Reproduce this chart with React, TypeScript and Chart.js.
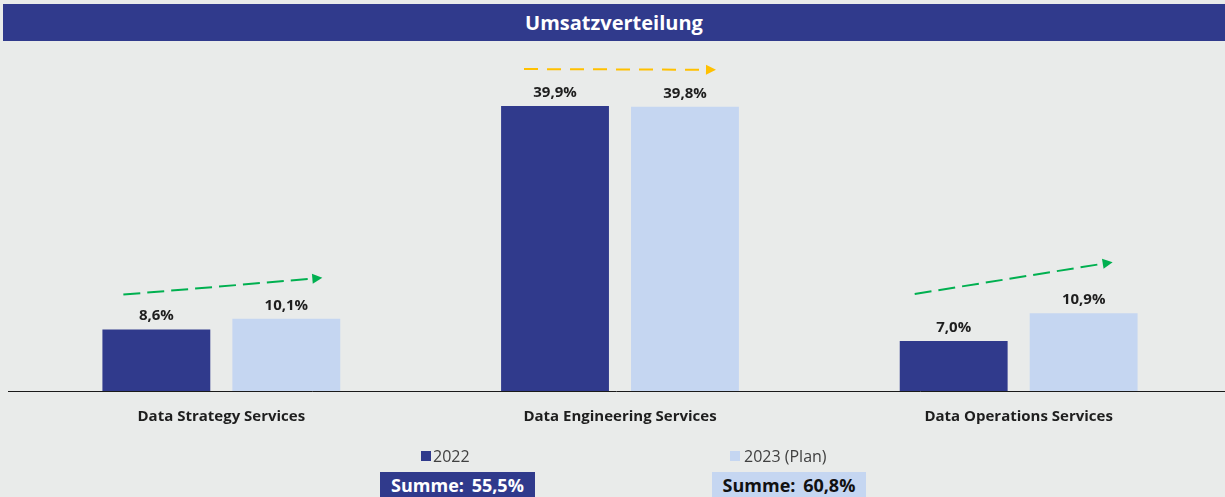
import React, { useEffect, useRef } from "react";
import { Chart, registerables } from "chart.js";

Chart.register(...registerables);

const categories = ["Data Strategy Services", "Data Engineering Services", "Data Operations Services"];
const series2022 = [8.6, 39.9, 7.0];
const series2023 = [10.1, 39.8, 10.9];
const seriesNames = ["2022", "2023 (Plan)"];
const sums = ["Summe: 55,5%", "Summe: 60,8%"];
const titleText = "Umsatzverteilung";
const arrowColors = ["#00b050", "#ffc000", "#00b050"];

const DARK = "#303a8c";
const LIGHT = "#c5d6f1";
const BG = "#e9ebea";
const FONT = "'Open Sans', 'Noto Sans', sans-serif";

const fmt = (v: number) => v.toFixed(1).replace(".", ",") + "%";

export default function App() {
  const ref = useRef<HTMLCanvasElement | null>(null);

  useEffect(() => {
    if (!ref.current) return;
    const arrowOffsets = [
      { sx: -33, sy: -35, ex: 36, ey: -41 },
      { sx: -31, sy: -37, ex: 31, ey: -37 },
      { sx: -39, sy: -47, ex: 29, ey: -51 },
    ];
    const custom = {
      id: "custom",
      afterDatasetsDraw(chart: any) {
        const ctx = chart.ctx;
        const area = chart.chartArea;
        ctx.save();
        ctx.strokeStyle = "#1a1a1a";
        ctx.lineWidth = 1;
        ctx.beginPath();
        ctx.moveTo(8, Math.round(area.bottom) + 0.5);
        ctx.lineTo(chart.width, Math.round(area.bottom) + 0.5);
        ctx.stroke();
        ctx.font = `bold 15px ${FONT}`;
        ctx.fillStyle = "#1e1e1e";
        ctx.textAlign = "center";
        ctx.textBaseline = "bottom";
        chart.data.datasets.forEach((ds: any, di: number) => {
          const meta = chart.getDatasetMeta(di);
          meta.data.forEach((bar: any, i: number) => {
            ctx.fillText(fmt(ds.data[i]), bar.x, bar.y - 6);
          });
        });
        const m0 = chart.getDatasetMeta(0);
        const m1 = chart.getDatasetMeta(1);
        m0.data.forEach((b0: any, i: number) => {
          const b1 = m1.data[i];
          const o = arrowOffsets[i];
          const x1 = b0.x + o.sx, y1 = b0.y + o.sy;
          const x2 = b1.x + o.ex, y2 = b1.y + o.ey;
          const ang = Math.atan2(y2 - y1, x2 - x1);
          const hl = 10;
          const lx = x2 - hl * Math.cos(ang);
          const ly = y2 - hl * Math.sin(ang);
          ctx.strokeStyle = arrowColors[i];
          ctx.fillStyle = arrowColors[i];
          ctx.lineWidth = 2;
          ctx.setLineDash(i === 1 ? [14, 9] : [17, 7]);
          ctx.beginPath();
          ctx.moveTo(x1, y1);
          ctx.lineTo(lx, ly);
          ctx.stroke();
          ctx.setLineDash([]);
          ctx.beginPath();
          ctx.moveTo(x2, y2);
          ctx.lineTo(lx - 5 * Math.sin(ang), ly + 5 * Math.cos(ang));
          ctx.lineTo(lx + 5 * Math.sin(ang), ly - 5 * Math.cos(ang));
          ctx.closePath();
          ctx.fill();
        });
        ctx.restore();
      },
    };

    const chart = new Chart(ref.current, {
      type: "bar",
      data: {
        labels: categories,
        datasets: [
          { label: seriesNames[0], data: series2022, backgroundColor: DARK, categoryPercentage: 0.652, barPercentage: 0.83 },
          { label: seriesNames[1], data: series2023, backgroundColor: LIGHT, categoryPercentage: 0.652, barPercentage: 0.83 },
        ],
      },
      options: {
        responsive: false,
        animation: false,
        maintainAspectRatio: false,
        layout: { padding: { left: 22, right: 7, top: 50, bottom: 54 } },
        plugins: {
          legend: { display: false },
          tooltip: { enabled: false },
          title: { display: false },
        },
        scales: {
          x: {
            grid: { display: false, drawTicks: false },
            border: { display: false },
            ticks: { padding: 17, color: "#1e1e1e", font: { family: FONT, size: 15, weight: "bold" } },
          },
          y: {
            display: false,
            min: 0,
            max: 47.75,
          },
        },
      },
      plugins: [custom],
    });
    return () => chart.destroy();
  }, []);

  return (
    <div style={{ position: "absolute", left: 0, top: 0, width: 1225, height: 497, background: BG, overflow: "hidden", fontFamily: FONT }}>
      <div style={{ position: "absolute", left: 3, top: 4, width: 1222, height: 37, background: DARK, color: "#fff", fontWeight: 700, fontSize: 20, display: "flex", alignItems: "center", justifyContent: "center" }}>
        {titleText}
      </div>
      <canvas ref={ref} width={1225} height={497} style={{ position: "absolute", left: 0, top: 0, width: 1225, height: 497 }} />
      <div style={{ position: "absolute", left: 421, top: 451, width: 10, height: 10, background: DARK }} />
      <div style={{ position: "absolute", left: 433, top: 446, fontSize: 16, color: "#404040", lineHeight: "20px" }}>{seriesNames[0]}</div>
      <div style={{ position: "absolute", left: 730, top: 451, width: 10, height: 10, background: LIGHT }} />
      <div style={{ position: "absolute", left: 744, top: 446, fontSize: 16, color: "#404040", lineHeight: "20px" }}>{seriesNames[1]}</div>
      <div style={{ position: "absolute", left: 380, top: 472, width: 155, height: 25, background: DARK, color: "#fff", fontWeight: 700, fontSize: 18, wordSpacing: 3, display: "flex", alignItems: "center", justifyContent: "center" }}>
        {sums[0]}
      </div>
      <div style={{ position: "absolute", left: 712, top: 472, width: 154, height: 25, background: LIGHT, color: "#111", fontWeight: 700, fontSize: 18, wordSpacing: 3, display: "flex", alignItems: "center", justifyContent: "center" }}>
        {sums[1]}
      </div>
    </div>
  );
}
